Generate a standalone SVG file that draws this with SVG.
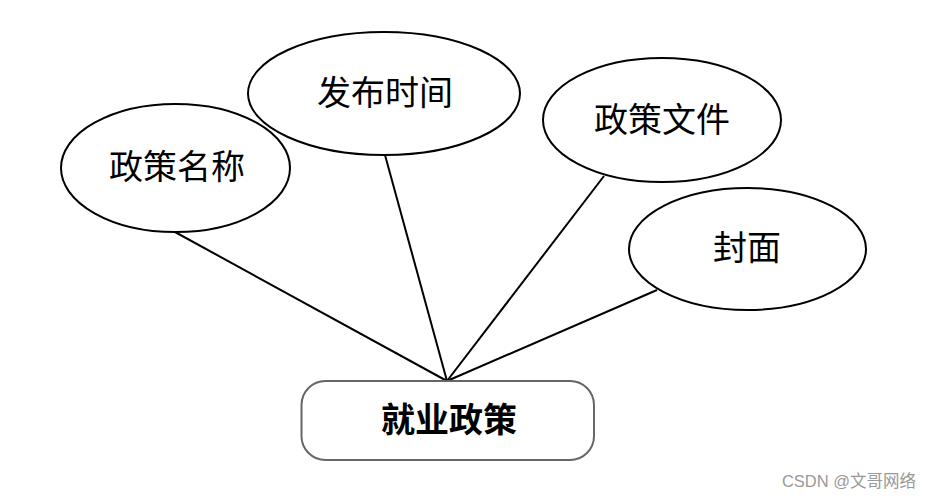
<svg xmlns="http://www.w3.org/2000/svg" width="931" height="499" viewBox="0 0 931 499">
<style>
.attr ellipse{fill:none;stroke:#000;stroke-width:2}
.lbl{font-family:"Liberation Serif","Noto Sans CJK SC",serif;font-size:34px;fill:#000;text-anchor:middle;dominant-baseline:central}
.edge line{stroke:#000;stroke-width:2}
</style>
<rect width="931" height="499" fill="#fff"/>
<g id="edges" class="edge">
<line x1="175" y1="232" x2="447" y2="381"/>
<line x1="385" y1="155" x2="447" y2="381"/>
<line x1="604" y1="176" x2="447" y2="381"/>
<line x1="657" y1="290" x2="447" y2="381"/>
</g>
<g id="n_name" class="attr"><ellipse cx="175.5" cy="168" rx="114.5" ry="64"/><text class="lbl" x="177" y="167">政策名称</text></g>
<g id="n_time" class="attr"><ellipse cx="384" cy="93.5" rx="136" ry="61.5"/><text class="lbl" x="385" y="93">发布时间</text></g>
<g id="n_file" class="attr"><ellipse cx="662" cy="120" rx="119" ry="62"/><text class="lbl" x="662" y="120">政策文件</text></g>
<g id="n_cover" class="attr"><ellipse cx="747.5" cy="249" rx="118.5" ry="61"/><text class="lbl" x="747" y="248">封面</text></g>
<g id="n_main"><rect x="301.5" y="381" width="292.5" height="79" rx="24" fill="#fff" stroke="#666" stroke-width="2"/><text class="lbl" x="449" y="420" font-weight="bold">就业政策</text></g>
<text x="916" y="481" font-family="'Liberation Sans','Noto Sans CJK SC',sans-serif" font-size="16.5" fill="#999" text-anchor="end" dominant-baseline="central">CSDN @文哥网络</text>
</svg>
